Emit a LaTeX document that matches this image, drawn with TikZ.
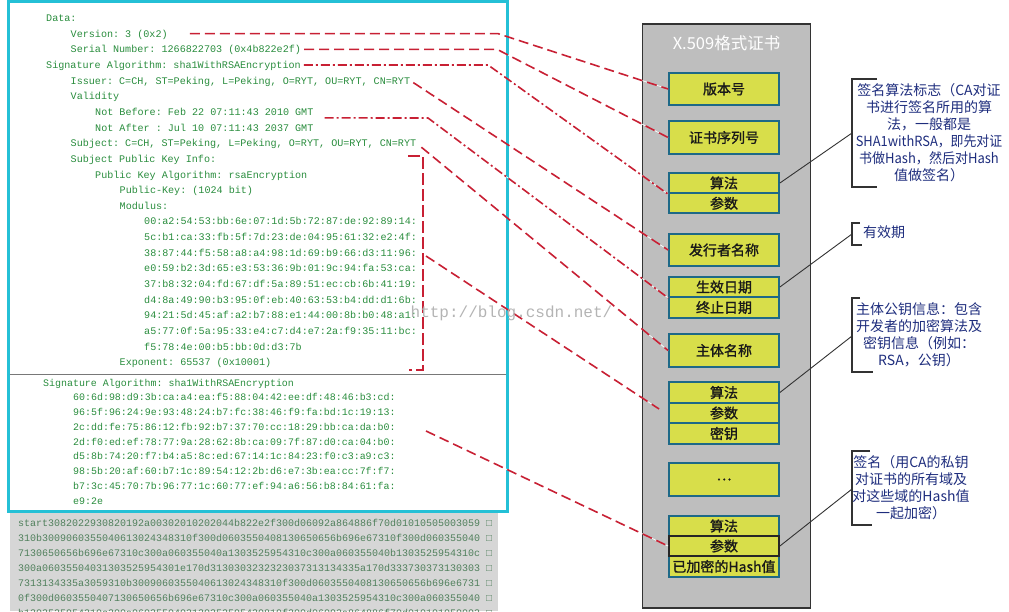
\documentclass[tikz,border=0pt]{standalone}
\usepackage{fontspec}
\usepackage{graphicx}
\setmonofont{Liberation Mono}
\newfontfamily\cjk{Noto Sans CJK SC}
\newfontfamily\cjkb[FakeBold=1.2]{Noto Sans CJK SC}
\definecolor{codegreen}{RGB}{40,140,60}
\definecolor{graygreen}{RGB}{80,128,92}
\definecolor{cyanb}{RGB}{36,192,214}
\definecolor{hexbg}{RGB}{214,214,214}
\definecolor{panelgray}{RGB}{190,190,190}
\definecolor{boxyellow}{RGB}{216,222,74}
\definecolor{boxedge}{RGB}{30,105,135}
\definecolor{dashred}{RGB}{200,32,52}
\definecolor{notenavy}{RGB}{30,45,125}
\definecolor{wmgray}{RGB}{180,180,180}
\definecolor{sepgray}{RGB}{120,120,120}
\definecolor{linkgray}{RGB}{50,50,50}
\begin{document}
\begin{tikzpicture}[x=1pt,y=-1pt,
  code/.style={anchor=west, inner sep=0pt, text height=7pt, text depth=0pt,
    font=\ttfamily\fontsize{10.1}{12}\selectfont, text=codegreen},
  codeb/.style={code, font=\ttfamily\fontsize{9.95}{12}\selectfont},
  hexrow/.style={anchor=west, inner sep=0pt, text height=7pt, text depth=0pt,
    font=\ttfamily\fontsize{10}{12}\selectfont, text=graygreen},
  fieldbox/.style={draw=boxedge, line width=1.8pt, fill=boxyellow, minimum width=110pt,
    inner sep=0pt, font=\cjkb\fontsize{14}{16}\selectfont, text=black!90},
  reddash/.style={draw=dashred, line width=1.6pt, dash pattern=on 10pt off 5pt,
    preaction={draw=white, line width=0.7pt, solid}},
  reddashdot/.style={reddash, dash pattern=on 9pt off 3pt on 2pt off 3pt},
  redlong/.style={reddash, dash pattern=on 12pt off 4pt},
  note/.style={align=center, inner sep=0pt, text=notenavy, font=\cjk\fontsize{14}{17}\selectfont},
  bracketline/.style={draw=linkgray, line width=1.2pt},
  noteline/.style={draw=linkgray, line width=0.9pt}
]
\useasboundingbox (0,0) rectangle (1009,611);
\clip (0,0) rectangle (1009,611);

% grey hex dump area
\fill[hexbg] (10,511) rectangle (498,611);
\foreach \t [count=\i from 0] in {
start3082022930820192a00302010202044b822e2f300d06092a864886f70d01010505003059 □,
310b3009060355040613024348310f300d0603550408130650656b696e67310f300d060355040 □,
7130650656b696e67310c300a060355040a1303525954310c300a060355040b1303525954310c □,
300a06035504031303525954301e170d3130303232323037313134335a170d333730373130303 □,
7313134335a3059310b3009060355040613024348310f300d0603550408130650656b696e6731 □,
0f300d0603550407130650656b696e67310c300a060355040a1303525954310c300a060355040 □,
b1303525954310c300a0603550403130352595430819f300d06092a864886f70d010101050003 □}
  \node[hexrow] (r\i) at (18,{522.5+15*\i}) {\t};

% cyan frame and separator
\draw[cyanb, line width=3pt] (8,1.5) rectangle (507,511);
\draw[sepgray, line width=1pt] (9.5,374) -- (505.5,374);

% certificate text, upper block
\node[code] (dat) at (46,18) {Data:};
\node[code] (ver) at (70.5,33.65) {Version: 3 (0x2)};
\node[code] (ser) at (70.5,49.3) {Serial Number: 1266822703 (0x4b822e2f)};
\node[code] (sig) at (46,64.95) {Signature Algorithm: sha1WithRSAEncryption};
\node[code] (isr) at (70.5,80.6) {Issuer: C=CH, ST=Peking, L=Peking, O=RYT, OU=RYT, CN=RYT};
\node[code] (val) at (70.5,96.25) {Validity};
\node[code] (nbf) at (95,111.9) {Not Before: Feb 22 07:11:43 2010 GMT};
\node[code] (naf) at (95,127.55) {Not After : Jul 10 07:11:43 2037 GMT};
\node[code] (sub) at (70.5,143.2) {Subject: C=CH, ST=Peking, L=Peking, O=RYT, OU=RYT, CN=RYT};
\node[code] (spk) at (70.5,158.85) {Subject Public Key Info:};
\node[code] (pka) at (95,174.5) {Public Key Algorithm: rsaEncryption};
\node[code] (pub) at (119.5,190.15) {Public-Key: (1024 bit)};
\node[code] (mod) at (119.5,205.8) {Modulus:};
\foreach \t [count=\i from 0] in {
00:a2:54:53:bb:6e:07:1d:5b:72:87:de:92:89:14:,
5c:b1:ca:33:fb:5f:7d:23:de:04:95:61:32:e2:4f:,
38:87:44:f5:58:a8:a4:98:1d:69:b9:66:d3:11:96:,
e0:59:b2:3d:65:e3:53:36:9b:01:9c:94:fa:53:ca:,
37:b8:32:04:fd:67:df:5a:89:51:ec:cb:6b:41:19:,
d4:8a:49:90:b3:95:0f:eb:40:63:53:b4:dd:d1:6b:,
94:21:5d:45:af:a2:b7:88:e1:44:00:8b:b0:48:a1:,
a5:77:0f:5a:95:33:e4:c7:d4:e7:2a:f9:35:11:bc:,
f5:78:4e:00:b5:bb:0d:d3:7b}
  \node[code] (m\i) at (144,{221.45+15.65*\i}) {\t};
\node[code] (expo) at (119.5,362.3) {Exponent: 65537 (0x10001)};

% certificate text, lower block
\node[codeb] (sg2) at (43,382.5) {Signature Algorithm: sha1WithRSAEncryption};
\foreach \t [count=\i from 0] in {
60:6d:98:d9:3b:ca:a4:ea:f5:88:04:42:ee:df:48:46:b3:cd:,
96:5f:96:24:9e:93:48:24:b7:fc:38:46:f9:fa:bd:1c:19:13:,
2c:dd:fe:75:86:12:fb:92:b7:37:70:cc:18:29:bb:ca:da:b0:,
2d:f0:ed:ef:78:77:9a:28:62:8b:ca:09:7f:87:d0:ca:04:b0:,
d5:8b:74:20:f7:b4:a5:8c:ed:67:14:1c:84:23:f0:c3:a9:c3:,
98:5b:20:af:60:b7:1c:89:54:12:2b:d6:e7:3b:ea:cc:7f:f7:,
b7:3c:45:70:7b:96:77:1c:60:77:ef:94:a6:56:b8:84:61:fa:,
e9:2e}
  \node[codeb] (g\i) at (73,{397.3+14.75*\i}) {\t};

% X.509 panel
\draw[draw=black!80, line width=1.5pt, fill=panelgray] (642.5,24) rectangle (810.5,608);
\node[text=white, inner sep=0pt, font=\cjk\fontsize{16.5}{18}\selectfont] (title) at (726.5,43) {X.509格式证书};

\node[fieldbox, minimum height=32.5pt] (v) at (724,89) {版本号};
\node[fieldbox, minimum height=33pt] (sn) at (724,137.5) {证书序列号};
\node[fieldbox, minimum height=20.5pt] (a1) at (724,183) {算法};
\node[fieldbox, minimum height=20pt] (p1) at (724,203.3) {参数};
\node[fieldbox, minimum height=32pt] (iss) at (724,250) {发行者名称};
\node[fieldbox, minimum height=20pt] (nb) at (724,287) {生效日期};
\node[fieldbox, minimum height=21pt] (na) at (724,307.5) {终止日期};
\node[fieldbox, minimum height=33pt] (subj) at (724,350.5) {主体名称};
\node[fieldbox, minimum height=21pt] (a2) at (724,392.5) {算法};
\node[fieldbox, minimum height=20pt] (p2) at (724,413) {参数};
\node[fieldbox, minimum height=21pt] (k2) at (724,433.5) {密钥};
\node[fieldbox, minimum height=33pt] (dots) at (724,479.5) {…};
\node[fieldbox, minimum height=20pt] (a3) at (724,526) {算法};
\node[fieldbox, minimum height=21pt] (h3) at (724,566.5) {已加密的Hash值};
\node[fieldbox, draw=black!85, minimum height=20pt] (p3) at (724,546) {参数};

% annotations
\coordinate (q1a) at (877,79);  \coordinate (q1b) at (852,79);
\coordinate (q1c) at (852,187); \coordinate (q1d) at (877,187);
\coordinate (q1m) at (852,133);
\draw[bracketline] (q1a) -- (q1b) -- (q1c) -- (q1d);
\node[note] (n1) at (929,133) {签名算法标志（CA对证\\书进行签名所用的算\\法，一般都是\\\scalebox{0.92}[1]{SHA1withRSA，即先对证}\\\scalebox{0.93}[1]{书做Hash，然后对Hash}\\值做签名）};
\draw[noteline] (a1.east) -- (q1m);

\coordinate (q2a) at (860,223); \coordinate (q2b) at (852,223);
\coordinate (q2c) at (852,245); \coordinate (q2d) at (862,245);
\coordinate (q2m) at (852,234);
\draw[bracketline] (q2a) -- (q2b) -- (q2c) -- (q2d);
\node[note, anchor=west] (n2) at (863,232) {有效期};
\draw[noteline] (nb.east) -- (q2m);

\coordinate (q3a) at (860,298); \coordinate (q3b) at (852,298);
\coordinate (q3c) at (852,372); \coordinate (q3d) at (873,372);
\coordinate (q3m) at (852,336);
\draw[bracketline] (q3a) -- (q3b) -- (q3c) -- (q3d);
\node[note] (n3) at (919,334.5) {主体公钥信息：包含\\开发者的加密算法及\\密钥信息（例如：\\RSA，公钥）};
\draw[noteline] (a2.east) -- (q3m);

\coordinate (q4a) at (870,451); \coordinate (q4b) at (852,451);
\coordinate (q4c) at (852,525); \coordinate (q4d) at (872,525);
\coordinate (q4m) at (852,489);
\draw[bracketline] (q4a) -- (q4b) -- (q4c) -- (q4d);
\node[note] (n4) at (911,487.5) {签名（用CA的私钥\\对证书的所有域及\\对这些域的Hash值\\一起加密）};
\draw[noteline] (p3.east) -- (q4m);

% red dashed connectors
\coordinate (c1) at (498,0);
\coordinate (c2) at (497,0);
\coordinate (c3) at (488,0);
\coordinate (c5) at (428,118);
\draw[reddash] ([xshift=22pt]ver.east) -- (ver.east -| c1) -- (v.west);
\draw[reddash] ([xshift=3pt]ser.east) -- (ser.east -| c2) -- (sn.west);
\draw[reddashdot] ([xshift=3pt]sig.east) -- (sig.east -| c3) -- (a1.south west);
\draw[reddash] ([shift={(3pt,-2pt)}]isr.east) -- (iss.west);
\draw[reddashdot] ([shift={(11pt,-6pt)}]nbf.east) -- (c5) -- (nb.south west);
\draw[reddash] ([shift={(5pt,-4pt)}]sub.east) -- (subj.west);
\coordinate (k1) at (408,156);
\coordinate (k2) at (423,156);
\coordinate (k3) at (423,370);
\coordinate (k4) at (409,370);
\coordinate (k5) at (426,256);
\draw[redlong] (k1) -- (k2) -- (k3) -- (k4);
\draw[reddash] (k5) -- ([shift={(-9pt,4pt)}]p2.west);
\coordinate (s8) at (426,431);
\draw[reddash] (s8) -- (p3.west);

% watermark
\node[text=wmgray, inner sep=0pt, font=\ttfamily\fontsize{16}{18}\selectfont] (wm) at (511.5,313) {http://blog.csdn.net/};
\end{tikzpicture}
\end{document}
